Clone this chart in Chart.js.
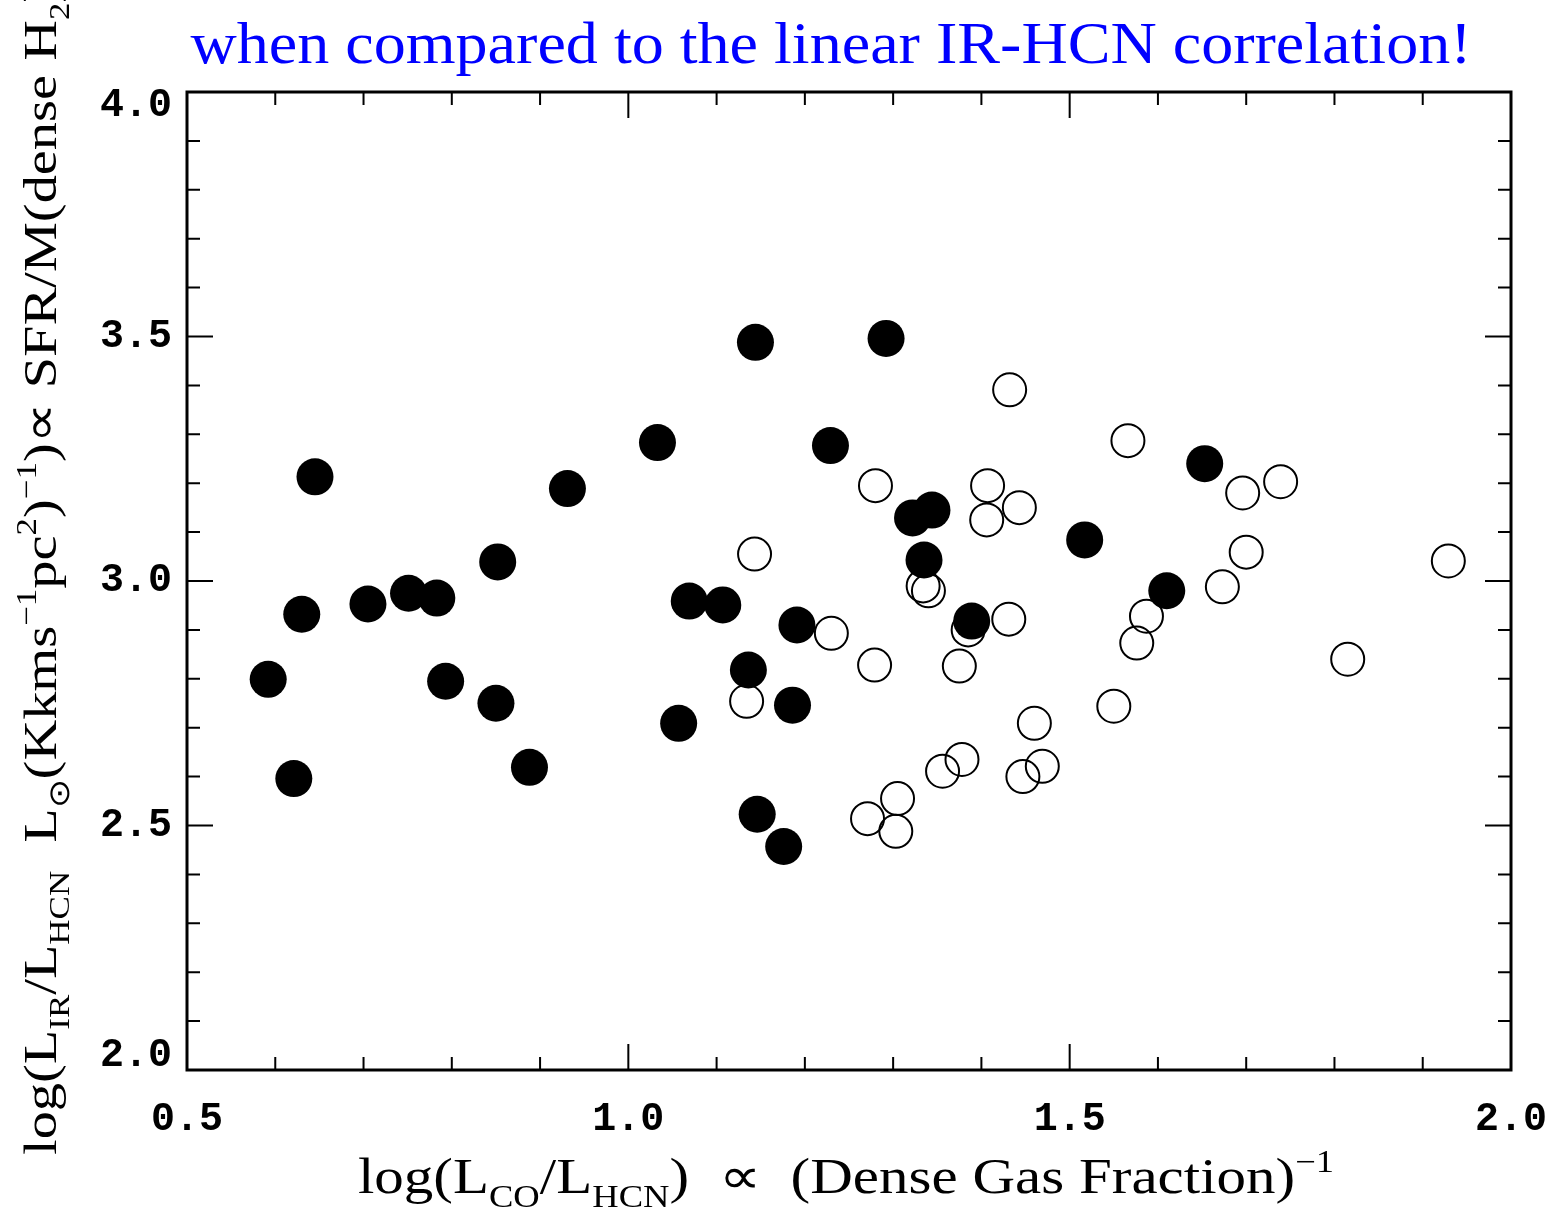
<!DOCTYPE html>
<html>
<head>
<meta charset="utf-8">
<script src="https://cdn.jsdelivr.net/npm/chart.js@4.4.1/dist/chart.umd.min.js"></script>
<style>
  html, body { margin: 0; padding: 0; background: #fff; }
  canvas { display: block; }
</style>
</head>
<body>
<canvas id="chart" width="1560" height="1210"></canvas>
<script>
// filled circles
const filledX = [0.592, 0.621, 0.630, 0.645, 0.705, 0.751, 0.783, 0.793, 0.850, 0.852, 0.888, 0.931,
                 1.033, 1.057, 1.069, 1.107, 1.136, 1.144, 1.146, 1.176, 1.186, 1.191, 1.229, 1.292,
                 1.322, 1.344, 1.335, 1.389, 1.517, 1.610, 1.653];
const filledY = [2.799, 2.596, 2.932, 3.213, 2.953, 2.975, 2.965, 2.795, 2.750, 3.039, 2.619, 3.189,
                 3.283, 2.709, 2.959, 2.951, 2.818, 3.488, 2.523, 2.457, 2.746, 2.910, 3.277, 3.496,
                 3.129, 3.145, 3.043, 2.918, 3.084, 2.980, 3.240];
// open circles
const openX = [1.134, 1.143, 1.230, 1.271, 1.279, 1.280, 1.303, 1.305, 1.334, 1.340, 1.356, 1.375,
               1.378, 1.385, 1.406, 1.407, 1.431, 1.432, 1.443, 1.447, 1.460, 1.469, 1.550, 1.566,
               1.576, 1.587, 1.673, 1.696, 1.700, 1.739, 1.815, 1.929];
const openY = [2.754, 3.055, 2.893, 2.514, 2.828, 3.195, 2.488, 2.555, 2.990, 2.980, 2.611, 2.826,
               2.635, 2.900, 3.125, 3.195, 2.922, 3.391, 3.150, 2.600, 2.709, 2.621, 2.744, 3.287,
               2.873, 2.928, 2.988, 3.180, 3.059, 3.203, 2.840, 3.041];

const xTickLabels = ['0.5', '1.0', '1.5', '2.0'];
const yTickLabels = ['2.0', '2.5', '3.0', '3.5', '4.0'];

const titleText = 'when compared to the linear IR-HCN correlation!';
// [text, -1 sub / 0 normal / 1 sup]
const xTitle = [['log(L', 0], ['CO', -1], ['/L', 0], ['HCN', -1], [')  \u221d  (Dense Gas Fraction)', 0], ['\u22121', 1]];
const yTitle = [['log(L', 0], ['IR', -1], ['/L', 0], ['HCN', -1], ['  L', 0], ['\u2299', -1], ['(Kkms', 0], ['\u22121', 1],
                ['pc', 0], ['2', 1], [')', 0], ['\u22121', 1], [')\u221d SFR/M(dense H', 0], ['2', -1], [')', 0]];

const toPts = (xs, ys) => xs.map((v, i) => ({ x: v, y: ys[i] }));
const isMajor = v => Math.abs(v * 2 - Math.round(v * 2)) < 1e-6;

function richWidth(ctx, parts, size, family) {
    let w = 0;
    parts.forEach(([t, m]) => {
        ctx.font = (m ? size * 0.62 : size) + 'px ' + family;
        w += ctx.measureText(t).width;
    });
    return w;
}
function drawRich(ctx, parts, x, y, size, family) {
    let cx = x;
    parts.forEach(([t, m]) => {
        const s = m ? size * 0.62 : size;
        ctx.font = s + 'px ' + family;
        const dy = m === -1 ? size * 0.28 : m === 1 ? -size * 0.42 : 0;
        ctx.fillText(t, cx, y + dy);
        cx += ctx.measureText(t).width;
    });
}

const decor = {
    id: 'decor',
    afterDraw(chart) {
        const { ctx, chartArea: a, scales: { x, y } } = chart;
        ctx.save();
        ctx.strokeStyle = '#000';
        ctx.lineWidth = 2;
        ctx.beginPath();
        x.ticks.forEach(t => {
            const px = x.getPixelForValue(t.value);
            const len = isMajor(t.value) ? 26 : 13;
            ctx.moveTo(px, a.bottom); ctx.lineTo(px, a.bottom - len);
            ctx.moveTo(px, a.top); ctx.lineTo(px, a.top + len);
        });
        y.ticks.forEach(t => {
            const py = y.getPixelForValue(t.value);
            const len = isMajor(t.value) ? 26 : 13;
            ctx.moveTo(a.left, py); ctx.lineTo(a.left + len, py);
            ctx.moveTo(a.right, py); ctx.lineTo(a.right - len, py);
        });
        ctx.stroke();
        ctx.lineWidth = 3;
        ctx.strokeRect(a.left, a.top, a.right - a.left, a.bottom - a.top);

        // title
        ctx.save();
        ctx.fillStyle = '#0000ff';
        ctx.font = '60px "Liberation Serif"';
        ctx.textAlign = 'center';
        ctx.textBaseline = 'alphabetic';
        ctx.translate(831, 63);
        ctx.scale(1.068, 1);
        ctx.fillText(titleText, 0, 0);
        ctx.restore();

        // axis titles
        ctx.fillStyle = '#000';
        ctx.textAlign = 'left';
        const fam = '"Liberation Serif"';
        ctx.save();
        const wx = richWidth(ctx, xTitle, 50, fam) * 1.18;
        ctx.translate(846 - wx / 2, 1193);
        ctx.scale(1.18, 1);
        drawRich(ctx, xTitle, 0, 0, 50, fam);
        ctx.restore();

        ctx.save();
        ctx.translate(56, 1155);
        ctx.rotate(-Math.PI / 2);
        ctx.scale(1.2, 1);
        drawRich(ctx, yTitle, 0, 0, 47, fam);
        ctx.restore();
        ctx.restore();
    }
};

new Chart(document.getElementById('chart'), {
    type: 'scatter',
    data: {
        datasets: [{
            data: toPts(openX, openY),
            pointStyle: 'circle',
            pointRadius: 16.5,
            pointHoverRadius: 16.5,
            borderWidth: 2,
            borderColor: '#000',
            backgroundColor: 'rgba(0,0,0,0)'
        }, {
            data: toPts(filledX, filledY),
            pointStyle: 'circle',
            pointRadius: 18.5,
            pointHoverRadius: 18.5,
            borderWidth: 0,
            borderColor: '#000',
            backgroundColor: '#000'
        }]
    },
    options: {
        responsive: false,
        animation: false,
        events: [],
        layout: { padding: { left: 0, top: 92, right: 49, bottom: 0 } },
        plugins: { legend: { display: false }, tooltip: { enabled: false }, title: { display: false } },
        scales: {
            x: {
                type: 'linear',
                min: 0.5,
                max: 2.0,
                afterFit: s => { s.height = 140; s.paddingLeft = 0; s.paddingRight = 0; },
                grid: { display: false, drawTicks: false },
                border: { display: false },
                ticks: {
                    stepSize: 0.1,
                    autoSkip: false,
                    maxRotation: 0,
                    padding: 26,
                    color: '#000',
                    font: { family: '"Liberation Mono"', size: 40, weight: 'bold' },
                    callback: v => {
                        const s = v.toFixed(1);
                        return xTickLabels.includes(s) ? s : '';
                    }
                }
            },
            y: {
                type: 'linear',
                min: 2.0,
                max: 4.0,
                afterFit: s => { s.width = 187; s.paddingTop = 0; s.paddingBottom = 0; },
                grid: { display: false, drawTicks: false },
                border: { display: false },
                ticks: {
                    stepSize: 0.1,
                    autoSkip: false,
                    padding: 15,
                    color: '#000',
                    font: { family: '"Liberation Mono"', size: 40, weight: 'bold', lineHeight: 0.7 },
                    callback: v => {
                        const s = v.toFixed(1);
                        if (!yTickLabels.includes(s)) return '';
                        if (s === yTickLabels[yTickLabels.length - 1]) return ['', s];
                        if (s === yTickLabels[0]) return [s, ''];
                        return s;
                    }
                }
            }
        }
    },
    plugins: [decor]
});
</script>
</body>
</html>
